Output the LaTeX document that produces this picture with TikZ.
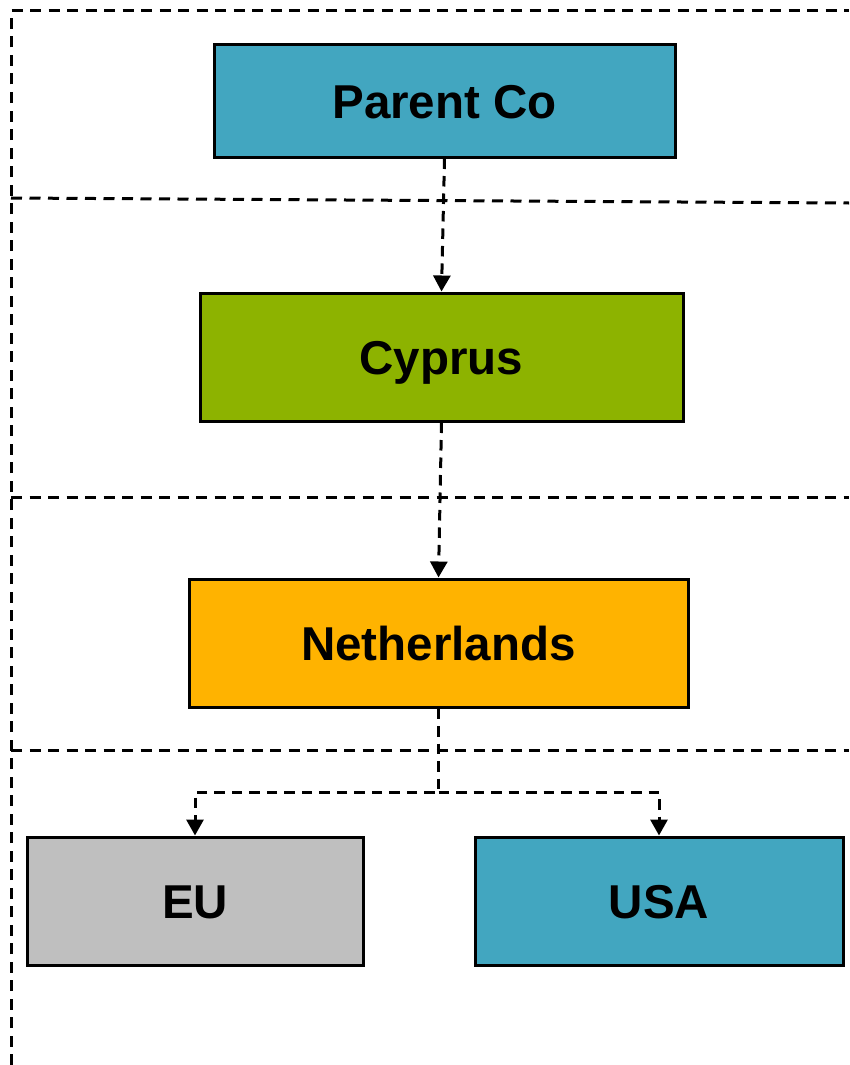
\documentclass[tikz,border=0pt]{standalone}
\usepackage{fontspec}
\setmainfont{Liberation Sans}
\usetikzlibrary{arrows.meta}
\definecolor{cteal}{RGB}{66,166,192}
\definecolor{cgreen}{RGB}{141,179,0}
\definecolor{corange}{RGB}{255,179,0}
\definecolor{cgrey}{RGB}{191,191,191}
\tikzset{
  x=1pt, y=-1pt,
  entity/.style={draw=black, line width=3pt, rectangle, inner sep=0pt,
    font=\fontsize{47.5}{56}\selectfont\bfseries, text=black,
    text height=34pt, text depth=0pt},
  sep/.style={draw=black, line width=3pt, dash pattern=on 11pt off 7.5pt},
  conn/.style={draw=black, line width=3pt, dash pattern=on 10.5pt off 7pt,
    -{Triangle[width=17pt,length=16pt]}},
}
\begin{document}
\begin{tikzpicture}
\useasboundingbox (0,0) rectangle (849,1065);
% separators
\coordinate (tl) at (11,11);
\coordinate (tr) at (849,11);
\coordinate (bl) at (11,1065);
\draw[sep] (bl) -- (tl) -- (tr);
\coordinate (s1a) at (11,198);
\coordinate (s1b) at (849,203);
\draw[sep] (s1a) -- (s1b);
\coordinate (s2a) at (11,497);
\coordinate (s2b) at (849,497);
\draw[sep] (s2a) -- (s2b);
\coordinate (s3a) at (11,750);
\coordinate (s3b) at (849,750);
\draw[sep] (s3a) -- (s3b);
% entities
\node[entity, fill=cteal, minimum width=461pt, minimum height=112pt] (pc) at (444.5,101) {Parent Co};
\node[entity, fill=cgreen, minimum width=483pt, minimum height=128pt] (cy) at (441.5,357) {Cyprus};
\node[entity, fill=corange, minimum width=499pt, minimum height=128pt] (nl) at (438.5,643) {Netherlands};
\node[entity, fill=cgrey, minimum width=336pt, minimum height=128pt] (eu) at (195,901) {EU};
\node[entity, fill=cteal, minimum width=368pt, minimum height=128pt] (us) at (659,901) {USA};
% connectors
\draw[conn] (pc.south) -- (cy.north);
\draw[conn] (cy.south) -- (nl.north);
\coordinate (j) at (438.5,792);
\draw[conn] (nl.south) -- (j) -| (eu.north);
\draw[conn] (j) -| (us.north);
\end{tikzpicture}
\end{document}
